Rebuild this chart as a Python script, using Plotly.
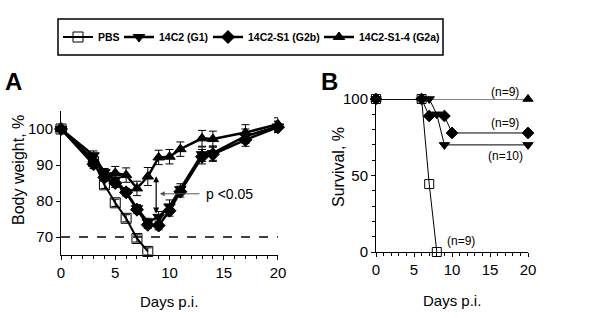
import plotly.graph_objects as go

# ---------------- Data ----------------
series_names = ["PBS", "14C2 (G1)", "14C2-S1 (G2b)", "14C2-S1-4 (G2a)"]
symbols = ["square-open", "triangle-down", "diamond", "triangle-up"]

# Panel A: body weight (%)
days_pbs_a = [0, 3, 4, 5, 6, 7, 8]
bw_pbs = [100, 91.0, 84.5, 79.5, 75.2, 69.6, 66.0]
err_pbs = [0, 1.0, 1.0, 1.0, 1.0, 1.0, 1.0]

days_a = [0, 3, 4, 5, 6, 7, 8, 9, 10, 11, 13, 14, 17, 20]
bw_g1 = [100, 92.7, 88.0, 86.0, 82.5, 78.0, 74.2, 75.6, 78.5, 83.3, 93.0, 93.3, 98.0, 100.7]
err_g1 = [0, 1.2, 1.0, 1.2, 1.0, 1.0, 1.0, 1.5, 1.8, 1.5, 2.0, 2.0, 2.0, 1.5]
bw_g2b = [100, 90.2, 86.5, 85.0, 82.4, 77.6, 73.4, 73.2, 77.3, 82.6, 92.3, 93.0, 97.0, 100.5]
err_g2b = [0, 1.2, 1.0, 1.2, 1.0, 1.0, 1.0, 1.2, 1.5, 1.5, 2.0, 2.0, 1.8, 1.5]
bw_g2a = [100, 91.5, 87.5, 87.8, 87.2, 83.5, 86.8, 92.1, 92.3, 94.4, 97.4, 97.2, 99.0, 101.3]
err_g2a = [0, 1.5, 1.5, 1.8, 2.0, 2.0, 2.5, 2.0, 2.0, 2.0, 2.2, 2.2, 2.2, 1.8]
threshold = 70

# Panel B: survival (%)
days_pbs_b = [0, 6, 7, 8]
surv_pbs = [100, 100, 44.4, 0]
days_g1_b = [0, 7, 8, 9, 20]
surv_g1 = [100, 100, 90, 70, 70]
days_g2b_b = [0, 6, 7, 9, 10, 20]
surv_g2b = [100, 100, 88.9, 88.9, 77.8, 77.8]
days_g2a_b = [0, 20]
surv_g2a = [100, 100]

x_ticks = [0, 5, 10, 15, 20]
ya_ticks = [70, 80, 90, 100]
yb_ticks = [0, 50, 100]

FONT = "Liberation Sans, Arial, sans-serif"

fig = go.Figure()

# Panel A traces
a_x = [days_pbs_a, days_a, days_a, days_a]
a_y = [bw_pbs, bw_g1, bw_g2b, bw_g2a]
a_e = [err_pbs, err_g1, err_g2b, err_g2a]
a_w = [2, 2.5, 2.5, 2.5]
leg_w = [16, 44, 66, None]
for i in range(4):
    kw = {}
    if leg_w[i] is not None:
        kw["legendwidth"] = leg_w[i]
    fig.add_trace(go.Scatter(
        x=a_x[i], y=a_y[i], mode="lines+markers", name="<b>%s</b>" % series_names[i],
        line=dict(color="black", width=a_w[i]),
        marker=dict(symbol=symbols[i], size=10, color="black",
                    line=dict(color="black", width=1)),
        error_y=dict(type="data", array=a_e[i], color="black", thickness=1, width=4),
        cliponaxis=False, xaxis="x", yaxis="y", showlegend=True, **kw))

# Panel B traces
b_x = [days_pbs_b, days_g1_b, days_g2b_b, days_g2a_b]
b_y = [surv_pbs, surv_g1, surv_g2b, surv_g2a]
for i in range(4):
    fig.add_trace(go.Scatter(
        x=b_x[i], y=b_y[i], mode="lines+markers", name=series_names[i],
        line=dict(color="black", width=1),
        marker=dict(symbol=symbols[i], size=9, color="black",
                    line=dict(color="black", width=1)),
        cliponaxis=False, xaxis="x2", yaxis="y2", showlegend=False))

axis_common = dict(showline=True, linecolor="black", linewidth=1, ticks="outside",
                   ticklen=4, tickcolor="black", showgrid=False, zeroline=False,
                   tickfont=dict(family=FONT, size=15, color="black"))

fig.update_layout(
    width=600, height=318, margin=dict(l=0, r=0, t=0, b=0, autoexpand=False),
    paper_bgcolor="white", plot_bgcolor="white",
    font=dict(family=FONT, color="black"),
    xaxis=dict(domain=[0.1017, 0.4633], range=[0, 20], tickvals=x_ticks,
               minor=dict(dtick=1, ticks="outside", ticklen=3, tickcolor="black"),
               anchor="y", **axis_common),
    yaxis=dict(domain=[0.198, 0.651], range=[65, 105], tickvals=ya_ticks,
               anchor="x", **axis_common),
    xaxis2=dict(domain=[0.6267, 0.88], range=[0, 20], tickvals=x_ticks,
                minor=dict(dtick=1, ticks="outside", ticklen=3, tickcolor="black"),
                anchor="y2", **axis_common),
    yaxis2=dict(domain=[0.2075, 0.6887], range=[0, 100], tickvals=yb_ticks,
                minor=dict(dtick=10, ticks="outside", ticklen=3, tickcolor="black"),
                anchor="x2", **axis_common),
    legend=dict(orientation="h", x=58 / 600, y=1 - 37 / 318, xanchor="left",
                yanchor="middle", font=dict(family=FONT, size=10.5, color="black"),
                bgcolor="rgba(0,0,0,0)", itemwidth=30, traceorder="normal"),
)

# legend frame
fig.add_shape(type="rect", xref="paper", yref="paper",
              x0=58 / 600, x1=443 / 600, y0=1 - 55 / 318, y1=1 - 19 / 318,
              line=dict(color="black", width=1.5))

# threshold dashed line
fig.add_shape(type="line", xref="x", yref="y", x0=0, x1=20, y0=threshold, y1=threshold,
              line=dict(color="black", width=1.5, dash="dash"))

C = dict(xanchor="center", yanchor="middle", showarrow=False)
ann = []
# panel letters
ann.append(dict(text="<b>A</b>", x=13 / 600, y=1 - 82 / 318, xref="paper", yref="paper",
                font=dict(size=24), **C))
ann.append(dict(text="<b>B</b>", x=329 / 600, y=1 - 82 / 318, xref="paper", yref="paper",
                font=dict(size=24), **C))
# axis titles
ann.append(dict(text="Body weight, %", x=18 / 600, y=1 - 170 / 318, xref="paper", yref="paper",
                textangle=-90, font=dict(size=16), **C))
ann.append(dict(text="Survival, %", x=338 / 600, y=1 - 167 / 318, xref="paper", yref="paper",
                textangle=-90, font=dict(size=16), **C))
ann.append(dict(text="Days p.i.", x=169 / 600, y=1 - 301 / 318, xref="paper", yref="paper",
                font=dict(size=15), **C))
ann.append(dict(text="Days p.i.", x=452 / 600, y=1 - 300 / 318, xref="paper", yref="paper",
                font=dict(size=15), **C))
# panel A arrows and p-value
ann.append(dict(x=8.77, y=76.5, ax=8.77, ay=87.3, xref="x", yref="y", axref="x", ayref="y",
                text="", showarrow=True, arrowhead=2, arrowside="end+start", arrowsize=1,
                arrowwidth=1.2, arrowcolor="black"))
ann.append(dict(x=9.1, y=82, ax=12.9, ay=82, xref="x", yref="y", axref="x", ayref="y",
                text="", showarrow=True, arrowhead=2, arrowsize=1, arrowwidth=1,
                arrowcolor="#555555"))
ann.append(dict(text="p <0.05", x=13.2, y=82, xref="x", yref="y", xanchor="left",
                yanchor="middle", showarrow=False, font=dict(size=14)))
# panel B arrow and annotations
ann.append(dict(x=20.9, y=70, ax=20.9, ay=100, xref="x2", yref="y2", axref="x2", ayref="y2",
                text="", showarrow=True, arrowhead=2, arrowside="end+start", arrowsize=1,
                arrowwidth=1.2, arrowcolor="black"))
ann.append(dict(text="p=0.08", x=22.0, y=87, xref="x2", yref="y2", xanchor="left",
                yanchor="middle", showarrow=False, font=dict(size=14)))
ann.append(dict(text="(n=9)", x=17, y=1 - 92 / 318, xref="x2", yref="paper",
                font=dict(size=12), **C))
for txt, xx, yy in [("(n=9)", 17, 84.5), ("(n=10)", 17, 62.5), ("(n=9)", 11.2, 7)]:
    ann.append(dict(text=txt, x=xx, y=yy, xref="x2", yref="y2", font=dict(size=12), **C))
fig.update_layout(annotations=ann)

fig.write_html("out.html", config={"displayModeBar": False},
               post_script="document.body.style.margin='0px';")
